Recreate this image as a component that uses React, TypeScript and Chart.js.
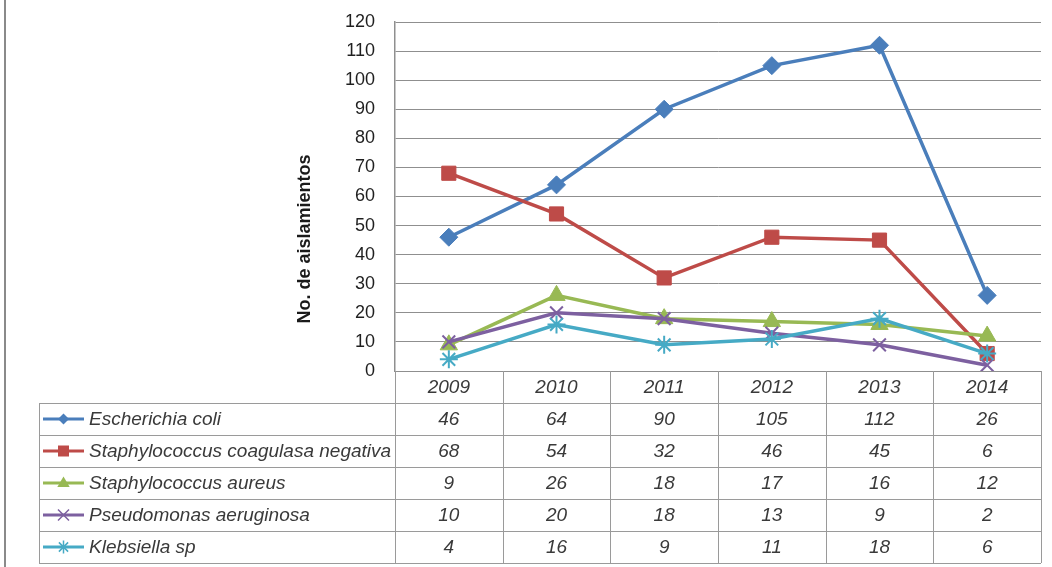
import React, { useEffect, useRef } from 'react';
import { Chart, registerables } from 'chart.js';

Chart.register(...registerables);

const years = ['2009', '2010', '2011', '2012', '2013', '2014'];
const seriesNames = [
  'Escherichia coli',
  'Staphylococcus coagulasa negativa',
  'Staphylococcus aureus',
  'Pseudomonas aeruginosa',
  'Klebsiella sp',
];
const ecoli = [46, 64, 90, 105, 112, 26];
const scNegativa = [68, 54, 32, 46, 45, 6];
const sAureus = [9, 26, 18, 17, 16, 12];
const pAeruginosa = [10, 20, 18, 13, 9, 2];
const klebsiella = [4, 16, 9, 11, 18, 6];
const seriesValues = [ecoli, scNegativa, sAureus, pAeruginosa, klebsiella];
const seriesColors = ['#4A7EBB', '#BE4B48', '#98B954', '#7D60A0', '#46AAC5'];
const seriesMarkers = ['rectRot', 'rect', 'triangle', 'crossRot', 'star'];
const markerRadius = [9, 10, 10, 9, 9];
const yTitle = 'No. de aislamientos';
const yMin = 0;
const yMax = 120;
const yStep = 10;

const FONT = '"Liberation Sans", Arial, sans-serif';
const GRID = '#8f8f8f';

function drawLegendMarker(ctx: CanvasRenderingContext2D, style: string, x: number, y: number, color: string) {
  ctx.save();
  ctx.fillStyle = color;
  ctx.strokeStyle = color;
  ctx.beginPath();
  if (style === 'rectRot') {
    const r = 5.5;
    ctx.moveTo(x, y - r);
    ctx.lineTo(x + r, y);
    ctx.lineTo(x, y + r);
    ctx.lineTo(x - r, y);
    ctx.closePath();
    ctx.fill();
  } else if (style === 'rect') {
    const s = 5.5;
    ctx.rect(x - s, y - s, 2 * s, 2 * s);
    ctx.fill();
  } else if (style === 'triangle') {
    const r = 6.5;
    ctx.moveTo(x, y - r);
    ctx.lineTo(x + r * 0.95, y + r * 0.6);
    ctx.lineTo(x - r * 0.95, y + r * 0.6);
    ctx.closePath();
    ctx.fill();
  } else if (style === 'crossRot') {
    const r = 5.5;
    ctx.lineWidth = 1.5;
    ctx.moveTo(x - r, y - r);
    ctx.lineTo(x + r, y + r);
    ctx.moveTo(x + r, y - r);
    ctx.lineTo(x - r, y + r);
    ctx.stroke();
  } else if (style === 'star') {
    const r = 6.5;
    ctx.lineWidth = 1.5;
    for (let k = 0; k < 4; k++) {
      const a = (k * Math.PI) / 4;
      ctx.moveTo(x - Math.cos(a) * r, y - Math.sin(a) * r);
      ctx.lineTo(x + Math.cos(a) * r, y + Math.sin(a) * r);
    }
    ctx.stroke();
  }
  ctx.restore();
}

const tablePlugin = {
  id: 'dataTable',
  afterDraw(chart: any) {
    const ctx: CanvasRenderingContext2D = chart.ctx;
    const xs = chart.scales.x;
    const area = chart.chartArea;
    const n = years.length;
    const colW = (area.right - area.left) / n;
    const top = area.bottom;
    const rowH = 32;
    const legendLeft = 39;
    const rows = seriesNames.length + 1;

    ctx.save();
    // outer left border
    ctx.strokeStyle = '#8a8a8a';
    ctx.lineWidth = 2;
    ctx.beginPath();
    ctx.moveTo(5, 0);
    ctx.lineTo(5, chart.height);
    ctx.stroke();

    // y title
    ctx.save();
    ctx.translate(305, 239);
    ctx.rotate(-Math.PI / 2);
    ctx.fillStyle = '#1a1a1a';
    ctx.font = `bold 18px ${FONT}`;
    ctx.textAlign = 'center';
    ctx.textBaseline = 'middle';
    ctx.fillText(yTitle, 0, 0);
    ctx.restore();

    // table grid
    ctx.strokeStyle = '#9a9a9a';
    ctx.lineWidth = 1;
    ctx.beginPath();
    for (let r = 1; r <= rows; r++) {
      const y = Math.round(top + r * rowH) + 0.5;
      ctx.moveTo(legendLeft, y);
      ctx.lineTo(area.right, y);
    }
    for (let i = 0; i <= n; i++) {
      const x = Math.round(i < n ? xs.getPixelForValue(i) - colW / 2 : xs.getPixelForValue(n - 1) + colW / 2) + 0.5;
      ctx.moveTo(x, top);
      ctx.lineTo(x, top + rows * rowH);
    }
    ctx.moveTo(legendLeft + 0.5, top + rowH);
    ctx.lineTo(legendLeft + 0.5, top + rows * rowH);
    ctx.stroke();

    // header
    ctx.fillStyle = '#3a3a3a';
    ctx.font = `italic 19px ${FONT}`;
    ctx.textAlign = 'center';
    ctx.textBaseline = 'middle';
    years.forEach((yr, i) => {
      ctx.fillText(yr, xs.getPixelForValue(i), top + rowH / 2 + 1);
    });

    // rows
    seriesNames.forEach((name, s) => {
      const cy = top + (s + 1) * rowH + rowH / 2 + 1;
      seriesValues[s].forEach((v, i) => {
        ctx.textAlign = 'center';
        ctx.fillStyle = '#3a3a3a';
        ctx.fillText(String(v), xs.getPixelForValue(i), cy);
      });
      // legend key
      const ly = cy - 1;
      ctx.strokeStyle = seriesColors[s];
      ctx.lineWidth = 3;
      ctx.beginPath();
      ctx.moveTo(43, ly);
      ctx.lineTo(84, ly);
      ctx.stroke();
      drawLegendMarker(ctx, seriesMarkers[s], 63.5, ly, seriesColors[s]);
      ctx.textAlign = 'left';
      ctx.fillStyle = '#3a3a3a';
      ctx.fillText(name, 89, cy);
    });
    ctx.restore();
  },
};

export default function App() {
  const ref = useRef<HTMLCanvasElement | null>(null);
  useEffect(() => {
    document.body.style.margin = '0';
    const canvas = ref.current;
    if (!canvas) return;
    const chart = new Chart(canvas, {
      type: 'line',
      data: {
        labels: years,
        datasets: seriesNames.map((name, s) => ({
          label: name,
          data: seriesValues[s],
          borderColor: seriesColors[s],
          backgroundColor: seriesColors[s],
          borderWidth: 3.5,
          pointStyle: seriesMarkers[s] as any,
          pointRadius: markerRadius[s],
          pointBorderWidth: s >= 3 ? 2 : 1,
          pointBackgroundColor: seriesColors[s],
          pointBorderColor: seriesColors[s],
          tension: 0,
          order: seriesNames.length - s,
        })),
      },
      options: {
        animation: false,
        responsive: false,
        maintainAspectRatio: false,
        layout: { padding: { top: 22, right: 11, bottom: 196, left: 0 } },
        plugins: {
          legend: { display: false },
          tooltip: { enabled: false },
          title: { display: false },
        },
        scales: {
          x: {
            type: 'category',
            display: false,
            offset: true,
          },
          y: {
            min: yMin,
            max: yMax,
            afterFit: (scale: any) => {
              scale.width = 395;
              scale.paddingTop = 0;
              scale.paddingBottom = 0;
            },
            ticks: {
              stepSize: yStep,
              padding: 20,
              color: '#1f1f1f',
              font: { family: FONT, size: 18 },
            },
            grid: {
              color: GRID,
              lineWidth: 1,
              drawTicks: false,
            },
            border: { display: true, color: GRID, width: 1.5 },
          },
        },
      },
      plugins: [tablePlugin],
    });
    return () => chart.destroy();
  }, []);
  return (
    <div style={{ width: 1052, height: 567, background: '#fff' }}>
      <canvas ref={ref} width={1052} height={567} style={{ display: 'block' }} />
    </div>
  );
}
